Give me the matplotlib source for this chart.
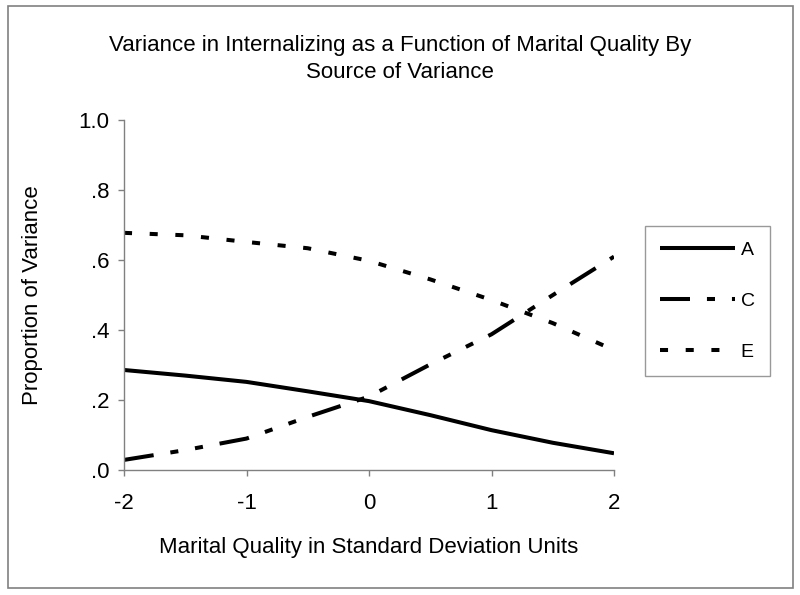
import matplotlib
matplotlib.use("Agg")
import matplotlib.pyplot as plt
from matplotlib.patches import Rectangle

plt.rcParams['font.family'] = ['Liberation Sans', 'DejaVu Sans']
plt.rcParams['lines.scale_dashes'] = False

# data
x_sd = [-2, -1.5, -1, -0.5, 0, 0.5, 1, 1.5, 2]
var_a = [0.286, 0.27, 0.252, 0.225, 0.197, 0.157, 0.114, 0.078, 0.048]
var_c = [0.029, 0.057, 0.09, 0.152, 0.21, 0.302, 0.388, 0.50, 0.61]
var_e = [0.678, 0.671, 0.652, 0.634, 0.598, 0.545, 0.486, 0.42, 0.343]
series_labels = ['A', 'C', 'E']
x_ticks = [-2, -1, 0, 1, 2]
x_ticklabels = ['-2', '-1', '0', '1', '2']
y_ticks = [0, 0.2, 0.4, 0.6, 0.8, 1.0]
y_ticklabels = ['.0', '.2', '.4', '.6', '.8', '1.0']

fig = plt.figure(figsize=(8, 5.95), dpi=100)
ax = fig.add_axes([0.155, 0.21, 0.6125, 0.588])

lw = 2.9
ax.plot(x_sd, var_a, color='black', lw=lw, solid_capstyle='butt', label=series_labels[0])
ax.plot(x_sd, var_c, color='black', lw=lw, dashes=(21.6, 12.2, 5.8, 12.2, 5.8, 12.2),
        dash_capstyle='butt', label=series_labels[1])
ax.plot(x_sd, var_e, color='black', lw=lw, dashes=(5.8, 12.7),
        dash_capstyle='butt', label=series_labels[2])

ax.set_xlim(-2, 2)
ax.set_ylim(0, 1.0)
ax.set_xticks(x_ticks)
ax.set_xticklabels(x_ticklabels)
ax.set_yticks(y_ticks)
ax.set_yticklabels(y_ticklabels)
ax.tick_params(axis='both', labelsize=16, color='#808080', length=4.3, width=1, direction='out')
ax.tick_params(axis='x', pad=12)
ax.tick_params(axis='y', pad=6)
for side in ['top', 'right']:
    ax.spines[side].set_visible(False)
for side in ['left', 'bottom']:
    ax.spines[side].set_color('#808080')
    ax.spines[side].set_linewidth(1)

ax.set_xlabel('Marital Quality in Standard Deviation Units', fontsize=16, labelpad=17)
ax.set_ylabel('Proportion of Variance', fontsize=16, labelpad=26)

fig.text(0.5, 0.942, 'Variance in Internalizing as a Function of Marital Quality By\nSource of Variance',
         ha='center', va='top', fontsize=16, linespacing=1.4)

leg = fig.legend(loc='upper left', bbox_to_anchor=(645 / 800, 1 - 226 / 595),
                 fontsize=14, handlelength=3.85, handletextpad=0.3, labelspacing=1.72,
                 borderpad=0.78, borderaxespad=0, fancybox=False, frameon=True)
leg.get_frame().set_edgecolor('#808080')
leg.get_frame().set_linewidth(1)

# outer border around the whole chart
fig.patches.append(Rectangle((8 / 800, 7 / 595), 785 / 800, 582 / 595, transform=fig.transFigure,
                             fill=False, edgecolor='#808080', lw=1.2))

fig.savefig('out.png', dpi=100)
